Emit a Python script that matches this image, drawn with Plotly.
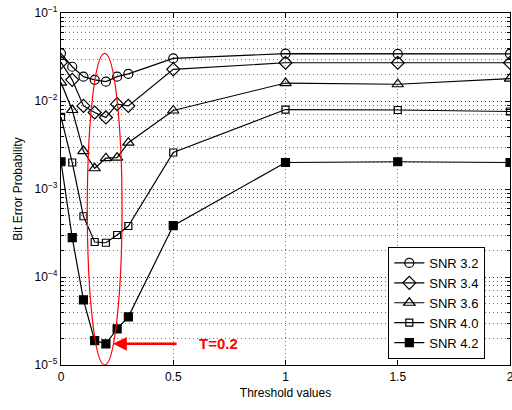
import math
import plotly.graph_objects as go

thresholds = [0, 0.05, 0.1, 0.15, 0.2, 0.25, 0.3, 0.5, 1.0, 1.5, 2.0]
snr_labels = ["SNR 3.2", "SNR 3.4", "SNR 3.6", "SNR 4.0", "SNR 4.2"]
ber_snr32 = [0.0348, 0.0245, 0.0189, 0.0174, 0.0166, 0.0189, 0.0203, 0.0305, 0.0345, 0.0343, 0.0343]
ber_snr34 = [0.0275, 0.0174, 0.0088, 0.0074, 0.0065, 0.0092, 0.0088, 0.0229, 0.0272, 0.0272, 0.0272]
ber_snr36 = [0.0162, 0.0079, 0.0027, 0.00172, 0.00224, 0.00227, 0.00336, 0.0078, 0.0160, 0.0155, 0.0180]
ber_snr40 = [0.0066, 0.0020, 0.00049, 0.00025, 0.000245, 0.00030, 0.00038, 0.0026, 0.0080, 0.0079, 0.0076]
ber_snr42 = [0.00204, 0.00028, 5.5e-5, 1.89e-5, 1.74e-5, 2.57e-5, 3.53e-5, 3.83e-4, 0.00200, 0.00204, 0.00200]
series = [ber_snr32, ber_snr34, ber_snr36, ber_snr40, ber_snr42]
symbols = ["circle-open", "diamond-open", "triangle-up-open", "square-open", "square"]
sizes = [9, 10, 10, 7, 8]

y_tickvals = [1e-5, 1e-4, 1e-3, 1e-2, 1e-1]
y_ticktext = ["10<sup>−5</sup>", "10<sup>−4</sup>", "10<sup>−3</sup>", "10<sup>−2</sup>", "10<sup>−1</sup>"]
x_tickvals = [0, 0.5, 1, 1.5, 2]
x_ticktext = ["0", "0.5", "1", "1.5", "2"]

ellipse_x = [0.117, 0.272]
ellipse_y = [1e-5, 0.0348]
label_T = "T=0.2"
arrow_tip_x = 0.232
label_x = 0.70

fig = go.Figure()
for name, ys, sym, sz in zip(snr_labels, series, symbols, sizes):
    fig.add_trace(go.Scatter(
        x=thresholds, y=ys, name=name, mode="lines+markers",
        line=dict(color="black", width=1.2),
        marker=dict(symbol=sym, size=sz, color="black", line=dict(color="black", width=1.2)),
    ))

fig.add_shape(type="circle", xref="x", yref="y",
              x0=ellipse_x[0], x1=ellipse_x[1], y0=ellipse_y[0], y1=ellipse_y[1],
              line=dict(color="red", width=1.2))

fig.add_annotation(x=arrow_tip_x, y=math.log10(ber_snr42[4]), xref="x", yref="y",
                   ax=65, ay=0, text="", showarrow=True, arrowhead=2, arrowsize=1.1,
                   arrowwidth=2.5, arrowcolor="red")
fig.add_annotation(x=label_x, y=math.log10(ber_snr42[4]), xref="x", yref="y",
                   text="<b>" + label_T + "</b>", showarrow=False, xanchor="center",
                   font=dict(color="red", size=15, family="Liberation Sans, Arial"))

grid_dash = "1px,3px"
axis_common = dict(showline=True, linecolor="black", linewidth=1.3, mirror="ticks",
                   ticks="inside", ticklen=5, tickcolor="black",
                   gridcolor="rgba(0,0,0,0.55)", griddash=grid_dash, gridwidth=1,
                   zeroline=False, tickfont=dict(size=12, color="black"),
                   ticklabeloverflow="allow")

fig.update_xaxes(range=[0, 2], tickvals=x_tickvals, ticktext=x_ticktext,
                 title=dict(text="Threshold values", font=dict(size=12, color="black"), standoff=6),
                 **axis_common)
fig.update_yaxes(type="log", range=[-5, -1], tickvals=y_tickvals, ticktext=y_ticktext,
                 title=dict(text="Bit Error Probability", font=dict(size=12, color="black"), standoff=9),
                 minor=dict(dtick="D1", ticks="inside", ticklen=3, tickcolor="black",
                            showgrid=True, gridcolor="rgba(0,0,0,0.55)", griddash=grid_dash, gridwidth=1),
                 **axis_common)

fig.update_layout(
    width=512, height=410,
    margin=dict(l=61, r=2, t=13, b=45, autoexpand=False),
    plot_bgcolor="white", paper_bgcolor="white",
    font=dict(family="Liberation Sans, Arial, sans-serif", size=12, color="black"),
    legend=dict(x=0.945, y=0.017, xanchor="right", yanchor="bottom",
                bgcolor="white", bordercolor="black", borderwidth=1,
                font=dict(size=13), tracegroupgap=0, itemwidth=30),
    showlegend=True,
)

fig.write_html("out.html", config={"displayModeBar": False},
               post_script="document.body.style.margin='0';document.body.style.padding='0';")
